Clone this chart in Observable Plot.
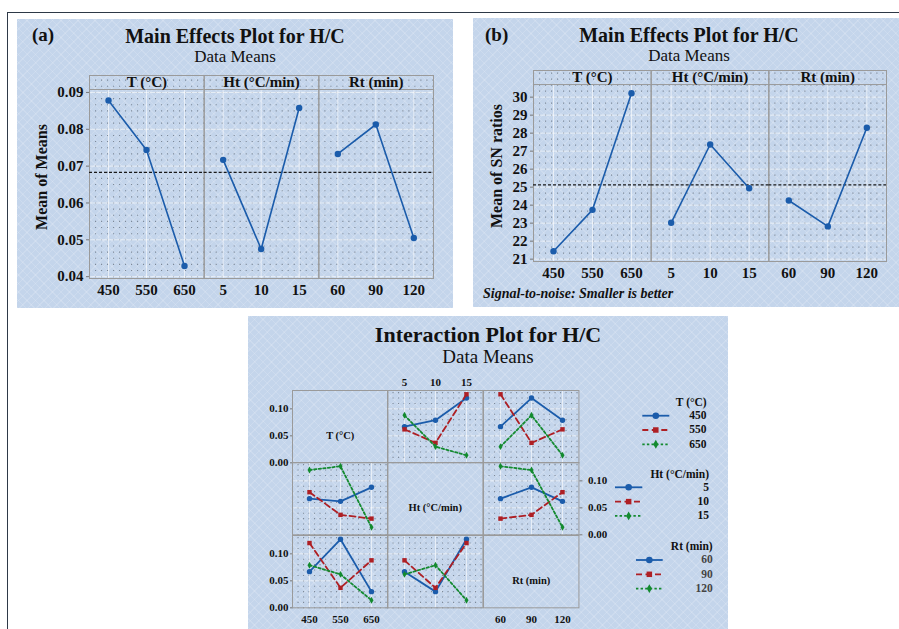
<!DOCTYPE html>
<html>
<head>
<meta charset="utf-8">
<script src="https://cdn.jsdelivr.net/npm/d3@7"></script>
<script src="https://cdn.jsdelivr.net/npm/@observablehq/plot@0.6"></script>
<style>
  body { margin: 0; background: #fff; }
  #fig { position: relative; width: 899px; height: 629px; overflow: hidden; background: #fff;
         font-family: "Liberation Serif", "Times New Roman", serif; color: #111; }
  .panel { position: absolute; background-color: #c4d5eb;
    background-image:
      repeating-linear-gradient(45deg, rgba(255,255,255,0.15) 0 1px, transparent 1px 6px),
      repeating-linear-gradient(-45deg, rgba(255,255,255,0.15) 0 1px, transparent 1px 6px); }
  .txt { position: absolute; white-space: nowrap; }
  .frameline { position: absolute; left: 7px; top: 12px; width: 950px; height: 700px;
    border-left: 1.5px solid #2e3947; border-top: 1.5px solid #2e3947; }
</style>
</head>
<body>
<div id="fig"></div>
<script>
// ---- factor levels ----
const factorNames = ["T (°C)", "Ht (°C/min)", "Rt (min)"];
const levelsT = [450, 550, 650];
const levelsHt = [5, 10, 15];
const levelsRt = [60, 90, 120];

// ---- main effects: data means of H/C ----
const meanHC_T = [0.0878, 0.0744, 0.0429];
const meanHC_Ht = [0.0717, 0.0475, 0.0858];
const meanHC_Rt = [0.0733, 0.0813, 0.0505];
const grandMeanHC = 0.0683;

// ---- main effects: SN ratios (smaller is better) ----
const snT = [21.44, 23.74, 30.22];
const snHt = [23.02, 27.37, 24.94];
const snRt = [24.26, 22.82, 28.30];
const grandMeanSN = 25.13;

// ---- L9 runs: H/C per run ----
const runT  = [450, 450, 450, 550, 550, 550, 650, 650, 650];
const runHt = [5, 10, 15, 5, 10, 15, 5, 10, 15];
const runRt = [60, 120, 90, 120, 90, 60, 90, 60, 120];
const runHC = [0.067, 0.079, 0.120, 0.062, 0.037, 0.127, 0.088, 0.030, 0.014];

// ---- tick labels ----
const ticksHC = [0.04, 0.05, 0.06, 0.07, 0.08, 0.09];
const ticksSN = [21, 22, 23, 24, 25, 26, 27, 28, 29, 30];
const ticksInter = [0, 0.05, 0.10];

const BLUE = "#1b5cab", RED = "#ae1f24", GREEN = "#138a2f";
const DOTS = "#76818f", FRAME = "#9a9a9a";
const SERIF = '"Liberation Serif", "Times New Roman", serif';

const fig = document.getElementById("fig");

function box(cls, left, top, w, h) {
  const d = document.createElement("div");
  d.className = cls;
  Object.assign(d.style, {left: left + "px", top: top + "px", width: w + "px", height: h + "px"});
  fig.append(d);
}

// text placed by its baseline
function label(text, {x, y, size, weight = "normal", style = "normal", anchor = "middle", color = "#111"}) {
  const d = document.createElement("div");
  d.className = "txt";
  d.textContent = text;
  Object.assign(d.style, {fontSize: size + "px", lineHeight: size + "px", fontWeight: weight,
    fontStyle: style, color, top: (y - 0.8375 * size) + "px"});
  if (anchor === "middle") Object.assign(d.style, {left: (x - 300) + "px", width: "600px", textAlign: "center"});
  else if (anchor === "start") d.style.left = x + "px";
  else d.style.right = (899 - x) + "px";
  fig.append(d);
}

function vlabel(text, {cx, cy, size, weight = "bold"}) {
  const d = document.createElement("div");
  d.className = "txt";
  d.textContent = text;
  Object.assign(d.style, {fontSize: size + "px", lineHeight: size + "px", fontWeight: weight,
    left: (cx - 150) + "px", top: (cy - size / 2) + "px", width: "300px", textAlign: "center",
    transform: "rotate(-90deg)"});
  fig.append(d);
}

function place(svg, left, top) {
  svg.style.position = "absolute";
  svg.style.left = left + "px";
  svg.style.top = top + "px";
  fig.append(svg);
}

function minorTicks(lo, hi, step) {
  return d3.range(Math.ceil(lo / step - 1e-9), Math.floor(hi / step + 1e-9) + 1).map(k => k * step);
}

// background pieces
box("frameline", 7, 12, 950, 700);
box("panel", 17, 19, 436, 289);
box("panel", 473, 18, 430, 289);
box("panel", 248, 316, 480, 320);

// ---- main effects chart (three adjacent facets) ----
function mainEffects(values, o) {
  const levels = [levelsT, levelsHt, levelsRt];
  const rows = [];
  factorNames.forEach((f, fi) => levels[fi].forEach((lv, i) =>
    rows.push({factor: f, i, level: String(lv), value: values[fi][i]})));
  const chart = Plot.plot({
    width: o.ml + o.frameW + o.mr, height: o.mt + o.frameH + o.mb,
    marginLeft: o.ml, marginRight: o.mr, marginTop: o.mt, marginBottom: o.mb,
    style: {background: "transparent", overflow: "visible", fontFamily: SERIF, fontSize: "15px",
            fontWeight: "bold", color: "#111", maxWidth: "none"},
    fx: {domain: factorNames, padding: 0, round: false, axis: null},
    x: {type: "point", domain: [0, 1, 2], padding: 0.5, axis: null},
    y: {domain: o.yDomain, label: null, axis: null},
    marks: [
      Plot.gridY(minorTicks(o.yDomain[0], o.yDomain[1], o.minorStep),
        {stroke: DOTS, strokeOpacity: 0.9, strokeWidth: 1.1, strokeDasharray: "1.1,4.9"}),
      Plot.ruleY(o.ticks, {stroke: "white", strokeOpacity: 0.6}),
      Plot.ruleX([0, 1, 2], {y1: o.yDomain[0], y2: o.stripBottom, stroke: "white", strokeOpacity: 0.6}),
      Plot.ruleY([o.stripBottom], {stroke: FRAME}),
      Plot.frame({stroke: FRAME}),
      Plot.ruleY([o.grand], {stroke: "#1a1a1a", strokeWidth: 1.3, strokeDasharray: "3,2"}),
      Plot.line(rows, {fx: "factor", x: "i", y: "value", stroke: BLUE, strokeWidth: 1.6}),
      Plot.dot(rows, {fx: "factor", x: "i", y: "value", fill: BLUE, r: 3.2}),
      Plot.text(rows, {fx: "factor", x: "i", text: "level", frameAnchor: "bottom", lineAnchor: "top", dy: 6}),
      Plot.text(factorNames, {fx: d => d, text: d => d, frameAnchor: "top", lineAnchor: "middle", dy: 7}),
      Plot.axisY(o.ticks, {tickSize: 3, tickPadding: 3, tickFormat: o.tickFormat, label: null, stroke: "#777"})
    ]
  });
  place(chart, o.left, o.top);
}

// (a) data means
mainEffects([meanHC_T, meanHC_Ht, meanHC_Rt], {
  left: 29, top: 71, ml: 60, mr: 10, mt: 4, mb: 30, frameW: 344, frameH: 203,
  yDomain: [0.0395, 0.0946], stripBottom: 0.0908, ticks: ticksHC, minorStep: 0.01 / 6,
  grand: grandMeanHC, tickFormat: d => d.toFixed(2)
});
// (b) SN ratios
mainEffects([snT, snHt, snRt], {
  left: 473, top: 66, ml: 60, mr: 10, mt: 4, mb: 30, frameW: 353, frameH: 191,
  yDomain: [20.87, 31.48], stripBottom: 30.70, ticks: ticksSN, minorStep: 1 / 3,
  grand: grandMeanSN, tickFormat: d => String(d)
});

label("(a)", {x: 32, y: 41, size: 19, weight: "bold", anchor: "start"});
label("Main Effects Plot for H/C", {x: 235, y: 43, size: 20, weight: "bold"});
label("Data Means", {x: 235, y: 62, size: 17});
vlabel("Mean of Means", {cx: 42, cy: 177, size: 16});

label("(b)", {x: 485, y: 41, size: 19, weight: "bold", anchor: "start"});
label("Main Effects Plot for H/C", {x: 689, y: 42, size: 20, weight: "bold"});
label("Data Means", {x: 689, y: 61, size: 17});
vlabel("Mean of SN ratios", {cx: 497, cy: 166, size: 16});
label("Signal-to-noise: Smaller is better", {x: 483, y: 299, size: 14, weight: "bold", style: "italic", anchor: "start"});

// ---- interaction matrix ----
label("Interaction Plot for H/C", {x: 488, y: 342, size: 22, weight: "bold"});
label("Data Means", {x: 488, y: 363, size: 19});

const levelsByFactor = [levelsT, levelsHt, levelsRt];
const runsByFactor = [runT, runHt, runRt];
const traceStyles = [
  {color: BLUE, dash: undefined, symbol: "circle", r: 2.7},
  {color: RED, dash: "6,3.5", symbol: "square", r: 2.5},
  {color: GREEN, dash: "2.4,2.2", symbol: "diamond", r: 2.1}
];
const cellW = 95.43, cellH = 72.33, gridX0 = 291.7, gridY0 = 390;
const CM = {l: 40, r: 40, t: 20, b: 22};

function interactionCell(r, c) {
  const xLv = levelsByFactor[c], zLv = levelsByFactor[r];
  const pts = runHC.map((v, k) => ({x: runsByFactor[c][k], z: runsByFactor[r][k], y: v}));
  const marks = [];
  if (r !== c) {
    marks.push(
      Plot.gridY(minorTicks(0, 0.134, 0.01), {stroke: DOTS, strokeOpacity: 0.9, strokeWidth: 1.1, strokeDasharray: "1.1,4.4"}),
      Plot.ruleY([0.05, 0.10], {stroke: "white", strokeOpacity: 0.6}),
      Plot.ruleX(xLv, {stroke: "white", strokeOpacity: 0.6})
    );
  }
  marks.push(Plot.frame({stroke: FRAME}));
  if (r === c) {
    marks.push(Plot.text([factorNames[r]], {text: d => d, frameAnchor: "middle", dy: 9, fontSize: 10.5}));
  } else {
    zLv.forEach((lv, li) => {
      const s = traceStyles[li];
      const series = pts.filter(p => p.z === lv).sort((a, b) => d3.ascending(a.x, b.x));
      marks.push(Plot.line(series, {x: "x", y: "y", stroke: s.color, strokeWidth: 1.8, strokeDasharray: s.dash}));
      marks.push(Plot.dot(series, {x: "x", y: "y", fill: s.color, symbol: s.symbol, r: s.r}));
    });
  }
  const fmt = d => d.toFixed(2);
  if (c === 0 && r !== 1) marks.push(Plot.axisY(ticksInter, {anchor: "left", tickSize: 2, tickPadding: 2, tickFormat: fmt, label: null, stroke: "#777"}));
  if (r === 1 && c === 2) marks.push(Plot.axisY(ticksInter, {anchor: "right", tickSize: 3, tickPadding: 6, tickFormat: fmt, label: null, stroke: "#777"}));
  if (r === 0 && c === 1) marks.push(Plot.axisX(xLv, {anchor: "top", tickSize: 0, tickPadding: 4, label: null}));
  if (r === 2 && c !== 1) marks.push(Plot.axisX(xLv, {anchor: "bottom", tickSize: 0, tickPadding: 7, label: null}));

  const chart = Plot.plot({
    width: CM.l + cellW + CM.r, height: CM.t + cellH + CM.b,
    marginLeft: CM.l, marginRight: CM.r, marginTop: CM.t, marginBottom: CM.b,
    style: {background: "transparent", overflow: "visible", fontFamily: SERIF, fontSize: "11px",
            fontWeight: "bold", color: "#111", maxWidth: "none"},
    x: {type: "point", domain: xLv, padding: 0.5, axis: null, label: null},
    y: {domain: [0, 0.134], axis: null, label: null},
    marks
  });
  place(chart, gridX0 + c * cellW - CM.l, gridY0 + r * cellH - CM.t);
}

for (let r = 0; r < 3; ++r) for (let c = 0; c < 3; ++c) interactionCell(r, c);

// ---- legends (one per trace factor) ----
const legendLayout = [
  {titleX: 706.7, titleY: 406.7, y0: 415.7, x1: 642.3, x2: 669.3, labelX: 706.5, labelColor: "#111"},
  {titleX: 709, titleY: 479, y0: 487.3, x1: 615, x2: 642.3, labelX: 709, labelColor: "#111"},
  {titleX: 712.7, titleY: 550.7, y0: 560, x1: 636, x2: 662.7, labelX: 712.7, labelColor: "#444"}
];
const leg = d3.create("svg").attr("width", 899).attr("height", 629)
  .style("position", "absolute").style("left", "0px").style("top", "0px").style("overflow", "visible");
const symbolType = {circle: d3.symbolCircle, square: d3.symbolSquare, diamond: d3.symbolDiamond};
legendLayout.forEach((L, fi) => {
  levelsByFactor[fi].forEach((lv, li) => {
    const s = traceStyles[li];
    const y = L.y0 + li * 14.3;
    leg.append("line").attr("x1", L.x1).attr("x2", L.x2).attr("y1", y).attr("y2", y)
      .attr("stroke", s.color).attr("stroke-width", 1.8).attr("stroke-dasharray", s.dash || null);
    leg.append("path").attr("transform", `translate(${(L.x1 + L.x2) / 2},${y})`)
      .attr("d", d3.symbol(symbolType[s.symbol], Math.PI * (s.r + 0.6) ** 2)()).attr("fill", s.color);
    label(String(lv), {x: L.labelX, y: y + 4, size: 11.5, weight: "bold", anchor: "end", color: L.labelColor});
  });
  label(factorNames[fi], {x: L.titleX, y: L.titleY, size: 11.5, weight: "bold", anchor: "end"});
});
fig.append(leg.node());
</script>
</body>
</html>
